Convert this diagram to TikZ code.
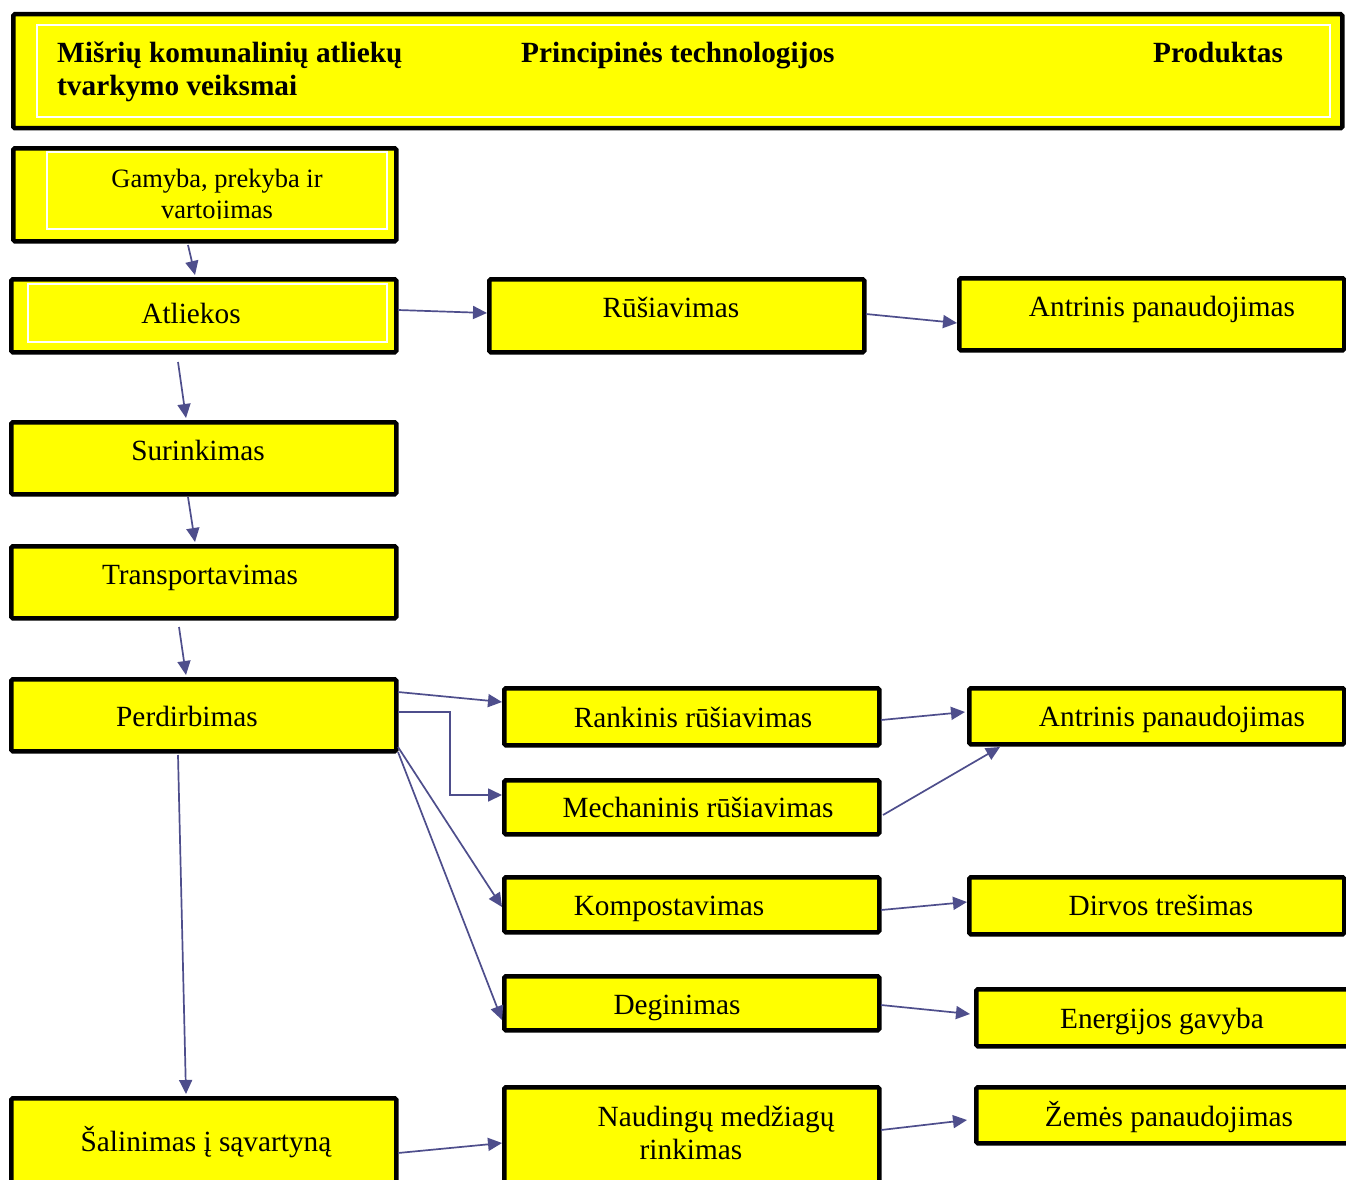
\documentclass[tikz,border=0pt]{standalone}
\usepackage{fontspec}
\setmainfont{Liberation Serif}
\usetikzlibrary{arrows.meta}
\definecolor{flowline}{RGB}{78,78,140}
\definecolor{boxfill}{RGB}{255,255,0}
\begin{document}
\begin{tikzpicture}[x=1pt,y=-1pt,
  box/.style={draw=black,fill=boxfill,line width=4.5pt,rounded corners=1.5pt,
    inner sep=0pt,anchor=north west},
  innerline/.style={draw=white,line width=1.2pt},
  lbl/.style={inner sep=0pt,anchor=base,font=\fontsize{29.3}{33}\selectfont},
  smalllbl/.style={inner sep=0pt,anchor=base,font=\fontsize{26.5}{30}\selectfont},
  hd/.style={inner sep=0pt,anchor=base west,font=\fontsize{29.3}{33}\selectfont\bfseries},
  arr/.style={draw=flowline,line width=1.7pt,-{Triangle[length=14pt,width=13pt]}}]
\clip (0,0) rectangle (1346,1180);
\fill[white] (0,0) rectangle (1346,1180);

% header band
\node[box,minimum width=1329pt,minimum height=114pt] (hdr) at (11,12) {};
\draw[innerline] (37,25) rectangle (1330,117);
\node[hd] (h1a) at (57,63) {Mišrių komunalinių atliekų};
\node[hd] (h1b) at (57,96) {tvarkymo veiksmai};
\node[hd] (h2) at (521,63) {Principinės technologijos};
\node[hd] (h3) at (1153,63) {Produktas};

% left column: management steps
\node[box,minimum width=383pt,minimum height=93pt] (gam) at (11,146) {};
\draw[innerline] (47,152) rectangle (387,229);
\begin{scope}
  \clip (11,146) rectangle (398,218.5);
  \node[smalllbl] (tgam1) at (217,187) {Gamyba, prekyba ir};
  \node[smalllbl] (tgam2) at (217,218) {vartojimas};
\end{scope}

\node[box,minimum width=385pt,minimum height=73pt] (atl) at (9,277) {};
\draw[innerline] (28,284) rectangle (387,342);
\node[lbl] (tatl) at (191,323) {Atliekos};

\node[box,minimum width=385pt,minimum height=72pt] (sur) at (9,420) {};
\node[lbl] (tsur) at (198,460) {Surinkimas};

\node[box,minimum width=385pt,minimum height=72pt] (tra) at (9,544) {};
\node[lbl] (ttra) at (200,584) {Transportavimas};

\node[box,minimum width=385pt,minimum height=72pt] (per) at (9,677) {};
\node[lbl] (tper) at (187,726) {Perdirbimas};

\node[box,minimum width=385pt,minimum height=100pt] (sal) at (9,1096) {};
\node[lbl] (tsal) at (206,1151) {Šalinimas į sąvartyną};

% middle column: technologies
\node[box,minimum width=375pt,minimum height=73pt] (rus) at (487,277) {};
\node[lbl] (trus) at (671,317) {Rūšiavimas};

\node[box,minimum width=375pt,minimum height=57pt] (ran) at (502,686) {};
\node[lbl] (tran) at (693,727) {Rankinis rūšiavimas};

\node[box,minimum width=375pt,minimum height=54pt] (mec) at (502,778) {};
\node[lbl] (tmec) at (698,817) {Mechaninis rūšiavimas};

\node[box,minimum width=375pt,minimum height=55pt] (kom) at (502,875) {};
\node[lbl] (tkom) at (669,915) {Kompostavimas};

\node[box,minimum width=375pt,minimum height=54pt] (deg) at (502,974) {};
\node[lbl] (tdeg) at (677,1014) {Deginimas};

\node[box,minimum width=375pt,minimum height=110pt] (nau) at (502,1085) {};
\node[lbl] (tnau1) at (716,1126) {Naudingų medžiagų};
\node[lbl] (tnau2) at (691,1159) {rinkimas};

% right column: products
\node[box,minimum width=385pt,minimum height=72pt] (ant1) at (957,276) {};
\node[lbl] (tant1) at (1162,316) {Antrinis panaudojimas};

\node[box,minimum width=375pt,minimum height=56pt] (ant2) at (967,686) {};
\node[lbl] (tant2) at (1172,726) {Antrinis panaudojimas};

\node[box,minimum width=375pt,minimum height=57pt] (dir) at (967,875) {};
\node[lbl] (tdir) at (1161,915) {Dirvos trešimas};

\node[box,minimum width=376pt,minimum height=57pt] (ene) at (974,987) {};
\node[lbl] (tene) at (1162,1028) {Energijos gavyba};

\node[box,minimum width=376pt,minimum height=56pt] (zem) at (974,1085) {};
\node[lbl] (tzem) at (1169,1126) {Žemės panaudojimas};

% connectors
\draw[arr] ([shift={(177,99)}]gam.north west) -- ([shift={(186,-2)}]atl.north west);
\draw[arr] ([shift={(169,85)}]atl.north west) -- ([shift={(177,-2)}]sur.north west);
\draw[arr] ([shift={(179,77)}]sur.north west) -- ([shift={(186,-2)}]tra.north west);
\draw[arr] ([shift={(170,83)}]tra.north west) -- ([shift={(177,-2)}]per.north west);
\draw[arr] ([shift={(169,78)}]per.north west) -- ([shift={(177,-2)}]sal.north west);

\draw[arr] ([shift={(389,33)}]atl.north west) -- ([shift={(0,36)}]rus.north west);
\draw[arr] ([shift={(379,37)}]rus.north west) -- ([shift={(0,47)}]ant1.north west);

\draw[arr] ([shift={(389,15)}]per.north west) -- ([shift={(0,16)}]ran.north west);
\draw[arr] ([shift={(389,35)}]per.north west) -- ++(52,0) |- ([shift={(0,17)}]mec.north west);
\draw[arr] ([shift={(389,70)}]per.north west) -- ([shift={(0,32)}]kom.north west);
\draw[arr] ([shift={(389,75)}]per.north west) -- ([shift={(0,46)}]deg.north west);

\draw[arr] ([shift={(379,34)}]ran.north west) -- ([shift={(-2,26)}]ant2.north west);
\draw[arr] ([shift={(381,37)}]mec.north west) -- ([shift={(33,61)}]ant2.north west);
\draw[arr] ([shift={(379,35)}]kom.north west) -- ([shift={(0,27)}]dir.north west);
\draw[arr] ([shift={(379,31)}]deg.north west) -- ([shift={(-4,27)}]ene.north west);

\draw[arr] ([shift={(389,57)}]sal.north west) -- ([shift={(0,58)}]nau.north west);
\draw[arr] ([shift={(379,45)}]nau.north west) -- ([shift={(-7,35)}]zem.north west);
\end{tikzpicture}
\end{document}
